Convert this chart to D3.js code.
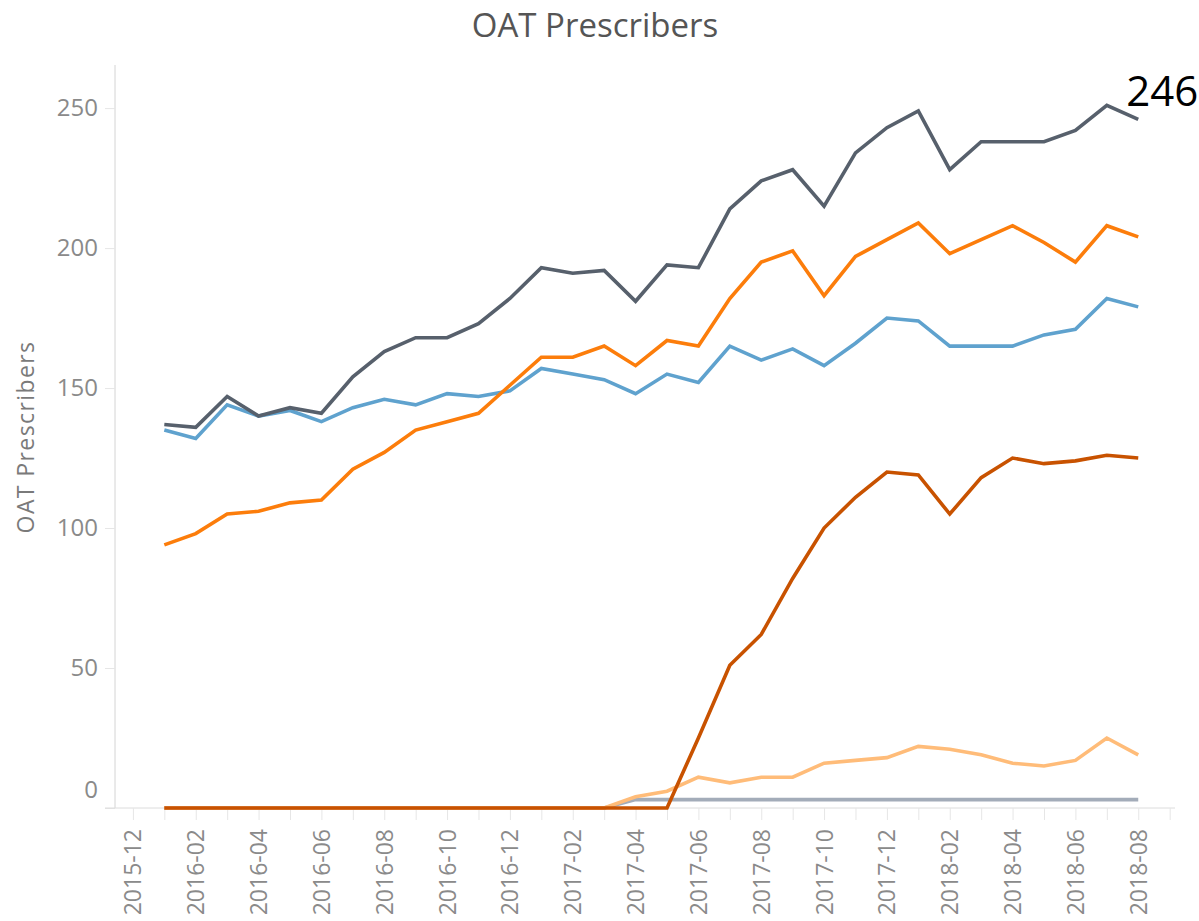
<!DOCTYPE html>
<html>
<head>
<meta charset="utf-8">
<script src="https://cdn.jsdelivr.net/npm/d3@7"></script>
<style>
  html, body { margin: 0; padding: 0; background: #fff; }
  svg { display: block; }
</style>
</head>
<body>
<svg id="chart" width="1199" height="921"></svg>
<script>
// ---------- DATA ----------
const months = [
  "2016-01","2016-02","2016-03","2016-04","2016-05","2016-06","2016-07","2016-08","2016-09","2016-10","2016-11","2016-12",
  "2017-01","2017-02","2017-03","2017-04","2017-05","2017-06","2017-07","2017-08","2017-09","2017-10","2017-11","2017-12",
  "2018-01","2018-02","2018-03","2018-04","2018-05","2018-06","2018-07","2018-08"
];
const axisMonths = [
  "2015-12","2016-01","2016-02","2016-03","2016-04","2016-05","2016-06","2016-07","2016-08","2016-09","2016-10","2016-11","2016-12",
  "2017-01","2017-02","2017-03","2017-04","2017-05","2017-06","2017-07","2017-08","2017-09","2017-10","2017-11","2017-12",
  "2018-01","2018-02","2018-03","2018-04","2018-05","2018-06","2018-07","2018-08","2018-09"
];
const tickLabels = [
  "2015-12","2016-02","2016-04","2016-06","2016-08","2016-10","2016-12",
  "2017-02","2017-04","2017-06","2017-08","2017-10","2017-12",
  "2018-02","2018-04","2018-06","2018-08"
];
const yTicks = [0, 50, 100, 150, 200, 250];

const totalValues = [137,136,147,140,143,141,154,163,168,168,173,182,
                     193,191,192,181,194,193,214,224,228,215,234,243,
                     249,228,238,238,238,242,251,246];
const orangeValues = [94,98,105,106,109,110,121,127,135,138,141,151,
                      161,161,165,158,167,165,182,195,199,183,197,203,
                      209,198,203,208,202,195,208,204];
const blueValues = [135,132,144,140,142,138,143,146,144,148,147,149,
                    157,155,153,148,155,152,165,160,164,158,166,175,
                    174,165,165,165,169,171,182,179];
const darkOrangeValues = [0,0,0,0,0,0,0,0,0,0,0,0,
                          0,0,0,0,0,25,51,62,82,100,111,120,
                          119,105,118,125,123,124,126,125];
const peachValues = [0,0,0,0,0,0,0,0,0,0,0,0,
                     0,0,0,4,6,11,9,11,11,16,17,18,
                     22,21,19,16,15,17,25,19];
const greyValues = [0,0,0,0,0,0,0,0,0,0,0,0,
                    0,0,0,3,3,3,3,3,3,3,3,3,
                    3,3,3,3,3,3,3,3];

const seriesList = [
  { name: "grey",       values: greyValues,       color: "#a3acb9" },
  { name: "peach",      values: peachValues,      color: "#ffbc79" },
  { name: "blue",       values: blueValues,       color: "#5fa2ce" },
  { name: "orange",     values: orangeValues,     color: "#fc7d0b" },
  { name: "total",      values: totalValues,      color: "#57606c" },
  { name: "darkOrange", values: darkOrangeValues, color: "#c85200" }
];
const endLabelValue = totalValues[totalValues.length - 1];

// ---------- LAYOUT ----------
const svg = d3.select("#chart");
const font = "'Open Sans', 'Noto Sans', sans-serif";

const monthIndex = m => axisMonths.indexOf(m);
const x = d3.scaleLinear().domain([-0.57, 33.17]).range([115, 1175]);
const y = d3.scaleLinear().domain([0, 265.4]).range([808, 65]);

// Title
svg.append("text")
  .attr("x", 595).attr("y", 37)
  .attr("text-anchor", "middle")
  .style("font-family", font).style("font-size", "33px")
  .style("fill", "#555555")
  .text("OAT Prescribers");

// Y axis title
svg.append("text")
  .attr("transform", "translate(34,437) rotate(-90)")
  .attr("text-anchor", "middle")
  .style("font-family", font).style("font-size", "23px")
  .style("letter-spacing", "1.4px")
  .style("fill", "#7a7a7a")
  .text("OAT Prescribers");

// Y axis
const yAxis = d3.axisLeft(y).tickValues(yTicks).tickSize(10).tickPadding(7);
const gy = svg.append("g").attr("transform", "translate(115,0)").call(yAxis);
gy.select(".domain").attr("stroke", "#d4d4d4").attr("d", `M0,${y.range()[1]}V${y.range()[0]}`);
gy.selectAll(".tick line").attr("stroke", "#e6e6e6");
gy.selectAll(".tick text")
  .style("font-family", font).style("font-size", "24px").style("fill", "#8a8a8a")
  .attr("dy", d => d === 0 ? "-0.45em" : "0.32em");

// X axis
const xAxis = d3.axisBottom(x)
  .tickValues(axisMonths.map(monthIndex))
  .tickSize(12)
  .tickFormat(i => tickLabels.includes(axisMonths[i]) ? axisMonths[i] : "");
const gx = svg.append("g").attr("transform", "translate(0,808)").call(xAxis);
gx.select(".domain").attr("stroke", "#dcdcdc").attr("d", "M105,0H1175");
gx.selectAll(".tick line").attr("stroke", "#e6e6e6");
gx.selectAll(".tick text")
  .style("font-family", font).style("font-size", "23px").style("fill", "#8a8a8a")
  .attr("text-anchor", "end")
  .attr("transform", "rotate(-90)")
  .attr("x", -21).attr("y", 0).attr("dy", "0.35em");

// Lines
const line = d3.line()
  .x((d, i) => x(monthIndex(months[i])))
  .y(d => y(d));

svg.append("g").selectAll("path")
  .data(seriesList)
  .join("path")
  .attr("d", s => line(s.values))
  .attr("fill", "none")
  .attr("stroke", s => s.color)
  .attr("stroke-width", 3.6)
  .attr("stroke-linejoin", "miter");

// End label
svg.append("text")
  .attr("x", x(monthIndex(months[months.length - 1])) - 12)
  .attr("y", y(endLabelValue) - 13)
  .style("font-family", font).style("font-size", "42px")
  .style("fill", "#000")
  .text(endLabelValue);
</script>
</body>
</html>
